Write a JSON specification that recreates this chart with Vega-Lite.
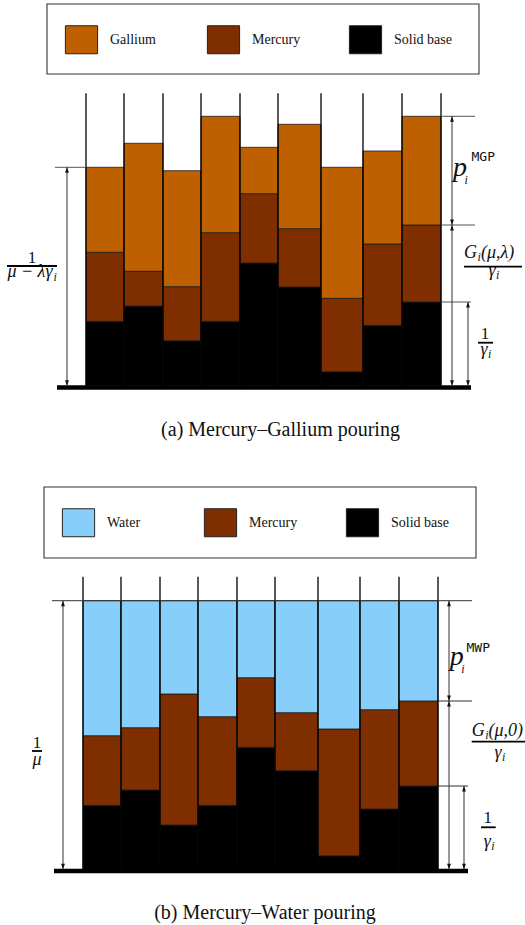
{
  "$schema": "https://vega.github.io/schema/vega-lite/v6.json",
  "padding": 0,
  "spacing": 0,
  "bounds": "flush",
  "background": "white",
  "config": {"view": {"stroke": null}, "axis": {"disable": true}},
  "resolve": {"scale": {"color": "independent"}, "legend": {"color": "independent"}},
  "datasets": {
    "walls": [
      {"x": 0, "y": 0, "y2": 292.5}, {"x": 38, "y": 0, "y2": 292.5}, {"x": 77, "y": 0, "y2": 292.5},
      {"x": 115, "y": 0, "y2": 292.5}, {"x": 154, "y": 0, "y2": 292.5}, {"x": 192, "y": 0, "y2": 292.5},
      {"x": 235, "y": 0, "y2": 292.5}, {"x": 277, "y": 0, "y2": 292.5}, {"x": 316, "y": 0, "y2": 292.5},
      {"x": 355, "y": 0, "y2": 292.5}
    ],
    "floor": [{"x": -29, "x2": 385, "y": -1.8}],
    "boxA": [{"x": -39, "x2": 393, "y": 311.7, "y2": 381.7}],
    "boxB": [{"x": -39, "x2": 393, "y": 311.3, "y2": 382.3}],
    "barsA": [
      {"c": 1, "x": 0, "x2": 38, "m": "Solid base", "y": 0, "y2": 64.4},
      {"c": 1, "x": 0, "x2": 38, "m": "Mercury", "y": 64.4, "y2": 133.4},
      {"c": 1, "x": 0, "x2": 38, "m": "Gallium", "y": 133.4, "y2": 218.4},
      {"c": 2, "x": 38, "x2": 77, "m": "Solid base", "y": 0, "y2": 79.7},
      {"c": 2, "x": 38, "x2": 77, "m": "Mercury", "y": 79.7, "y2": 114.4},
      {"c": 2, "x": 38, "x2": 77, "m": "Gallium", "y": 114.4, "y2": 242.4},
      {"c": 3, "x": 77, "x2": 115, "m": "Solid base", "y": 0, "y2": 45},
      {"c": 3, "x": 77, "x2": 115, "m": "Mercury", "y": 45, "y2": 99},
      {"c": 3, "x": 77, "x2": 115, "m": "Gallium", "y": 99, "y2": 215},
      {"c": 4, "x": 115, "x2": 154, "m": "Solid base", "y": 0, "y2": 64.4},
      {"c": 4, "x": 115, "x2": 154, "m": "Mercury", "y": 64.4, "y2": 153},
      {"c": 4, "x": 115, "x2": 154, "m": "Gallium", "y": 153, "y2": 269.4},
      {"c": 5, "x": 154, "x2": 192, "m": "Solid base", "y": 0, "y2": 122.7},
      {"c": 5, "x": 154, "x2": 192, "m": "Mercury", "y": 122.7, "y2": 192},
      {"c": 5, "x": 154, "x2": 192, "m": "Gallium", "y": 192, "y2": 238.4},
      {"c": 6, "x": 192, "x2": 235, "m": "Solid base", "y": 0, "y2": 98.7},
      {"c": 6, "x": 192, "x2": 235, "m": "Mercury", "y": 98.7, "y2": 157},
      {"c": 6, "x": 192, "x2": 235, "m": "Gallium", "y": 157, "y2": 261.4},
      {"c": 7, "x": 235, "x2": 277, "m": "Solid base", "y": 0, "y2": 14},
      {"c": 7, "x": 235, "x2": 277, "m": "Mercury", "y": 14, "y2": 87.4},
      {"c": 7, "x": 235, "x2": 277, "m": "Gallium", "y": 87.4, "y2": 218.4},
      {"c": 8, "x": 277, "x2": 316, "m": "Solid base", "y": 0, "y2": 60.4},
      {"c": 8, "x": 277, "x2": 316, "m": "Mercury", "y": 60.4, "y2": 141.7},
      {"c": 8, "x": 277, "x2": 316, "m": "Gallium", "y": 141.7, "y2": 234.7},
      {"c": 9, "x": 316, "x2": 355, "m": "Solid base", "y": 0, "y2": 83.7},
      {"c": 9, "x": 316, "x2": 355, "m": "Mercury", "y": 83.7, "y2": 160.7},
      {"c": 9, "x": 316, "x2": 355, "m": "Gallium", "y": 160.7, "y2": 269.4}
    ],
    "barsB": [
      {"c": 1, "x": 0, "x2": 38, "m": "Solid base", "y": 0, "y2": 64},
      {"c": 1, "x": 0, "x2": 38, "m": "Mercury", "y": 64, "y2": 133.6},
      {"c": 1, "x": 0, "x2": 38, "m": "Water", "y": 133.6, "y2": 268.6},
      {"c": 2, "x": 38, "x2": 77, "m": "Solid base", "y": 0, "y2": 79.3},
      {"c": 2, "x": 38, "x2": 77, "m": "Mercury", "y": 79.3, "y2": 141.6},
      {"c": 2, "x": 38, "x2": 77, "m": "Water", "y": 141.6, "y2": 268.6},
      {"c": 3, "x": 77, "x2": 115, "m": "Solid base", "y": 0, "y2": 44.3},
      {"c": 3, "x": 77, "x2": 115, "m": "Mercury", "y": 44.3, "y2": 175.3},
      {"c": 3, "x": 77, "x2": 115, "m": "Water", "y": 175.3, "y2": 268.6},
      {"c": 4, "x": 115, "x2": 154, "m": "Solid base", "y": 0, "y2": 64},
      {"c": 4, "x": 115, "x2": 154, "m": "Mercury", "y": 64, "y2": 152.6},
      {"c": 4, "x": 115, "x2": 154, "m": "Water", "y": 152.6, "y2": 268.6},
      {"c": 5, "x": 154, "x2": 192, "m": "Solid base", "y": 0, "y2": 122},
      {"c": 5, "x": 154, "x2": 192, "m": "Mercury", "y": 122, "y2": 191.6},
      {"c": 5, "x": 154, "x2": 192, "m": "Water", "y": 191.6, "y2": 268.6},
      {"c": 6, "x": 192, "x2": 235, "m": "Solid base", "y": 0, "y2": 98.6},
      {"c": 6, "x": 192, "x2": 235, "m": "Mercury", "y": 98.6, "y2": 156.6},
      {"c": 6, "x": 192, "x2": 235, "m": "Water", "y": 156.6, "y2": 268.6},
      {"c": 7, "x": 235, "x2": 277, "m": "Solid base", "y": 0, "y2": 13.6},
      {"c": 7, "x": 235, "x2": 277, "m": "Mercury", "y": 13.6, "y2": 140.3},
      {"c": 7, "x": 235, "x2": 277, "m": "Water", "y": 140.3, "y2": 268.6},
      {"c": 8, "x": 277, "x2": 316, "m": "Solid base", "y": 0, "y2": 60.3},
      {"c": 8, "x": 277, "x2": 316, "m": "Mercury", "y": 60.3, "y2": 159.6},
      {"c": 8, "x": 277, "x2": 316, "m": "Water", "y": 159.6, "y2": 268.6},
      {"c": 9, "x": 316, "x2": 355, "m": "Solid base", "y": 0, "y2": 83.3},
      {"c": 9, "x": 316, "x2": 355, "m": "Mercury", "y": 83.3, "y2": 168.3},
      {"c": 9, "x": 316, "x2": 355, "m": "Water", "y": 168.3, "y2": 268.6}
    ],
    "guidesA": [
      {"x": -31, "x2": 0, "y": 218.4},
      {"x": 355, "x2": 389, "y": 269.4},
      {"x": 355, "x2": 389, "y": 160.7},
      {"x": 355, "x2": 385, "y": 83.7}
    ],
    "guidesB": [
      {"x": -31, "x2": 389, "y": 268.6},
      {"x": 355, "x2": 389, "y": 168.3},
      {"x": 355, "x2": 385, "y": 83.3}
    ],
    "arrowsA": [
      {"x": -19, "y": 0, "y2": 218.4},
      {"x": 366, "y": 160.7, "y2": 269.4},
      {"x": 366, "y": 0, "y2": 160.7},
      {"x": 382, "y": 0, "y2": 83.7}
    ],
    "arrowsB": [
      {"x": -20, "y": 0, "y2": 268.6},
      {"x": 366, "y": 168.3, "y2": 268.6},
      {"x": 366, "y": 0, "y2": 168.3},
      {"x": 381, "y": 0, "y2": 83.3}
    ],
    "fracA": [
      {"x": -79, "x2": -29, "y": 119.7},
      {"x": 378, "x2": 436, "y": 119},
      {"x": 392, "x2": 407, "y": 43}
    ],
    "fracB": [
      {"x": -51, "x2": -41, "y": 118.3},
      {"x": 388.7, "x2": 445, "y": 127.6},
      {"x": 398, "x2": 412.7, "y": 42}
    ],
    "numsA": [{"t": "1", "x": -54, "y": 123.2}, {"t": "1", "x": 399, "y": 46.7}],
    "numsB": [{"t": "1", "x": -46, "y": 121.8}, {"t": "1", "x": 404.7, "y": 46}],
    "mathRA": [
      {"t": "μ − λγ", "x": -33.5, "y": 108.3},
      {"t": "γ", "x": 409.5, "y": 109.7},
      {"t": "γ", "x": 401.5, "y": 30.7}
    ],
    "mathRB": [
      {"t": "μ", "x": -41.5, "y": 104.3},
      {"t": "γ", "x": 418.5, "y": 111.3},
      {"t": "γ", "x": 407.8, "y": 22.6}
    ],
    "mathLA": [{"t": "G", "x": 378, "y": 128}, {"t": "(μ,λ)", "x": 395, "y": 128}],
    "mathLB": [{"t": "G", "x": 388.7, "y": 133.6}, {"t": "(μ,0)", "x": 405.5, "y": 133.6}],
    "subsA": [
      {"t": "i", "x": -32.5, "y": 105},
      {"t": "i", "x": 391.5, "y": 124.7},
      {"t": "i", "x": 410, "y": 106.7},
      {"t": "i", "x": 402, "y": 27.7},
      {"t": "i", "x": 378.5, "y": 202}
    ],
    "subsB": [
      {"t": "i", "x": 402.2, "y": 130},
      {"t": "i", "x": 419, "y": 108.3},
      {"t": "i", "x": 408.3, "y": 19.6},
      {"t": "i", "x": 378.2, "y": 196}
    ],
    "pA": [{"t": "p", "x": 367, "y": 210.2}],
    "pB": [{"t": "p", "x": 366.7, "y": 204}],
    "supA": [{"t": "MGP", "x": 385.5, "y": 224.3}],
    "supB": [{"t": "MWP", "x": 383.5, "y": 217.8}],
    "capA": [{"t": "(a) Mercury–Gallium pouring", "x": 194.5, "y": -50.3}],
    "capB": [{"t": "(b) Mercury–Water pouring", "x": 182, "y": -50}]
  },
  "vconcat": [
    {
      "width": 525,
      "height": 483,
      "encoding": {
        "x": {"field": "x", "type": "quantitative", "axis": null, "scale": {"domain": [-86, 439], "nice": false, "zero": false}},
        "y": {"field": "y", "type": "quantitative", "axis": null, "scale": {"domain": [-97.3, 385.7], "nice": false, "zero": false}}
      },
      "layer": [
        {"data": {"name": "boxA"}, "mark": {"type": "rect", "fill": "white", "stroke": "#333", "strokeWidth": 1.1}, "encoding": {"x2": {"field": "x2"}, "y2": {"field": "y2"}}},
        {
          "data": {"name": "barsA"},
          "mark": {"type": "rect", "stroke": "#1a1a1a", "strokeWidth": 0.8},
          "encoding": {
            "x2": {"field": "x2"},
            "y2": {"field": "y2"},
            "color": {
              "field": "m", "type": "nominal",
              "scale": {"domain": ["Gallium", "Mercury", "Solid base"], "range": ["#BF6000", "#7F2E00", "#000000"]},
              "legend": {
                "orient": "none", "legendX": 46, "legendY": 4, "direction": "horizontal", "columns": 3, "title": null,
                "padding": 21, "cornerRadius": 0,
                "symbolType": "M-1.15,-1H1.15V1H-1.15Z", "symbolSize": 784, "symbolStrokeColor": "#222", "symbolStrokeWidth": 1, "symbolOpacity": 1,
                "labelFont": "Liberation Serif", "labelFontSize": 14, "labelColor": "#111", "labelOffset": 14,
                "columnPadding": 37, "gridAlign": "all"
              }
            }
          }
        },
        {"data": {"name": "walls"}, "mark": {"type": "rule", "color": "black", "strokeWidth": 1.3}, "encoding": {"y2": {"field": "y2"}}},
        {"data": {"name": "floor"}, "mark": {"type": "rule", "color": "black", "strokeWidth": 4.5}, "encoding": {"x2": {"field": "x2"}}},
        {"data": {"name": "guidesA"}, "mark": {"type": "rule", "color": "#555", "strokeWidth": 1}, "encoding": {"x2": {"field": "x2"}}},
        {"data": {"name": "arrowsA"}, "mark": {"type": "rule", "color": "#333", "strokeWidth": 1}, "encoding": {"y2": {"field": "y2"}}},
        {"data": {"name": "arrowsA"}, "mark": {"type": "point", "shape": "M-0.7,-1L0.7,-1L0,1Z", "size": 30, "filled": true, "color": "#111", "opacity": 1, "yOffset": -2.7}, "encoding": {}},
        {"data": {"name": "arrowsA"}, "mark": {"type": "point", "shape": "M-0.7,1L0.7,1L0,-1Z", "size": 30, "filled": true, "color": "#111", "opacity": 1, "yOffset": 2.7}, "encoding": {"y": {"field": "y2", "type": "quantitative", "axis": null}}},
        {"data": {"name": "fracA"}, "mark": {"type": "rule", "color": "black", "strokeWidth": 1.8}, "encoding": {"x2": {"field": "x2"}}},
        {"data": {"name": "numsA"}, "mark": {"type": "text", "font": "Liberation Serif", "fontSize": 17, "align": "center", "baseline": "alphabetic", "color": "#111", "clip": true}, "encoding": {"text": {"field": "t"}}},
        {"data": {"name": "mathRA"}, "mark": {"type": "text", "font": "Liberation Serif", "fontStyle": "italic", "fontSize": 18, "align": "right", "baseline": "alphabetic", "color": "#111", "clip": true}, "encoding": {"text": {"field": "t"}}},
        {"data": {"name": "mathLA"}, "mark": {"type": "text", "font": "Liberation Serif", "fontStyle": "italic", "fontSize": 18, "align": "left", "baseline": "alphabetic", "color": "#111", "clip": true}, "encoding": {"text": {"field": "t"}}},
        {"data": {"name": "subsA"}, "mark": {"type": "text", "font": "Liberation Serif", "fontStyle": "italic", "fontSize": 12, "align": "left", "baseline": "alphabetic", "color": "#111", "clip": true}, "encoding": {"text": {"field": "t"}}},
        {"data": {"name": "pA"}, "mark": {"type": "text", "font": "Liberation Serif", "fontStyle": "italic", "fontSize": 28, "align": "left", "baseline": "alphabetic", "color": "#111", "clip": true}, "encoding": {"text": {"field": "t"}}},
        {"data": {"name": "supA"}, "mark": {"type": "text", "font": "DejaVu Sans Mono", "fontSize": 13, "align": "left", "baseline": "alphabetic", "color": "#111", "clip": true}, "encoding": {"text": {"field": "t"}}},
        {"data": {"name": "capA"}, "mark": {"type": "text", "font": "Liberation Serif", "fontSize": 20, "align": "center", "baseline": "alphabetic", "color": "#111"}, "encoding": {"text": {"field": "t"}}}
      ]
    },
    {
      "width": 525,
      "height": 442,
      "encoding": {
        "x": {"field": "x", "type": "quantitative", "axis": null, "scale": {"domain": [-83, 442], "nice": false, "zero": false}},
        "y": {"field": "y", "type": "quantitative", "axis": null, "scale": {"domain": [-55.7, 386.3], "nice": false, "zero": false}}
      },
      "layer": [
        {"data": {"name": "boxB"}, "mark": {"type": "rect", "fill": "white", "stroke": "#333", "strokeWidth": 1.1}, "encoding": {"x2": {"field": "x2"}, "y2": {"field": "y2"}}},
        {
          "data": {"name": "barsB"},
          "mark": {"type": "rect", "stroke": "#1a1a1a", "strokeWidth": 0.8},
          "encoding": {
            "x2": {"field": "x2"},
            "y2": {"field": "y2"},
            "color": {
              "field": "m", "type": "nominal",
              "scale": {"domain": ["Water", "Mercury", "Solid base"], "range": ["#87CEFA", "#7F2E00", "#000000"]},
              "legend": {
                "orient": "none", "legendX": 43, "legendY": 4, "direction": "horizontal", "columns": 3, "title": null,
                "padding": 21, "cornerRadius": 0,
                "symbolType": "M-1.15,-1H1.15V1H-1.15Z", "symbolSize": 784, "symbolStrokeColor": "#222", "symbolStrokeWidth": 1, "symbolOpacity": 1,
                "labelFont": "Liberation Serif", "labelFontSize": 14, "labelColor": "#111", "labelOffset": 14,
                "columnPadding": 37, "gridAlign": "all"
              }
            }
          }
        },
        {"data": {"name": "walls"}, "mark": {"type": "rule", "color": "black", "strokeWidth": 1.3}, "encoding": {"y2": {"field": "y2"}}},
        {"data": {"name": "floor"}, "mark": {"type": "rule", "color": "black", "strokeWidth": 4.5}, "encoding": {"x2": {"field": "x2"}}},
        {"data": {"name": "guidesB"}, "mark": {"type": "rule", "color": "#333", "strokeWidth": 1}, "encoding": {"x2": {"field": "x2"}}},
        {"data": {"name": "arrowsB"}, "mark": {"type": "rule", "color": "#333", "strokeWidth": 1}, "encoding": {"y2": {"field": "y2"}}},
        {"data": {"name": "arrowsB"}, "mark": {"type": "point", "shape": "M-0.7,-1L0.7,-1L0,1Z", "size": 30, "filled": true, "color": "#111", "opacity": 1, "yOffset": -2.7}, "encoding": {}},
        {"data": {"name": "arrowsB"}, "mark": {"type": "point", "shape": "M-0.7,1L0.7,1L0,-1Z", "size": 30, "filled": true, "color": "#111", "opacity": 1, "yOffset": 2.7}, "encoding": {"y": {"field": "y2", "type": "quantitative", "axis": null}}},
        {"data": {"name": "fracB"}, "mark": {"type": "rule", "color": "black", "strokeWidth": 1.8, "clip": true}, "encoding": {"x2": {"field": "x2"}}},
        {"data": {"name": "numsB"}, "mark": {"type": "text", "font": "Liberation Serif", "fontSize": 17, "align": "center", "baseline": "alphabetic", "color": "#111", "clip": true}, "encoding": {"text": {"field": "t"}}},
        {"data": {"name": "mathRB"}, "mark": {"type": "text", "font": "Liberation Serif", "fontStyle": "italic", "fontSize": 18, "align": "right", "baseline": "alphabetic", "color": "#111", "clip": true}, "encoding": {"text": {"field": "t"}}},
        {"data": {"name": "mathLB"}, "mark": {"type": "text", "font": "Liberation Serif", "fontStyle": "italic", "fontSize": 18, "align": "left", "baseline": "alphabetic", "color": "#111", "clip": true}, "encoding": {"text": {"field": "t"}}},
        {"data": {"name": "subsB"}, "mark": {"type": "text", "font": "Liberation Serif", "fontStyle": "italic", "fontSize": 12, "align": "left", "baseline": "alphabetic", "color": "#111", "clip": true}, "encoding": {"text": {"field": "t"}}},
        {"data": {"name": "pB"}, "mark": {"type": "text", "font": "Liberation Serif", "fontStyle": "italic", "fontSize": 28, "align": "left", "baseline": "alphabetic", "color": "#111", "clip": true}, "encoding": {"text": {"field": "t"}}},
        {"data": {"name": "supB"}, "mark": {"type": "text", "font": "DejaVu Sans Mono", "fontSize": 13, "align": "left", "baseline": "alphabetic", "color": "#111", "clip": true}, "encoding": {"text": {"field": "t"}}},
        {"data": {"name": "capB"}, "mark": {"type": "text", "font": "Liberation Serif", "fontSize": 20, "align": "center", "baseline": "alphabetic", "color": "#111", "clip": true}, "encoding": {"text": {"field": "t"}}}
      ]
    }
  ]
}
